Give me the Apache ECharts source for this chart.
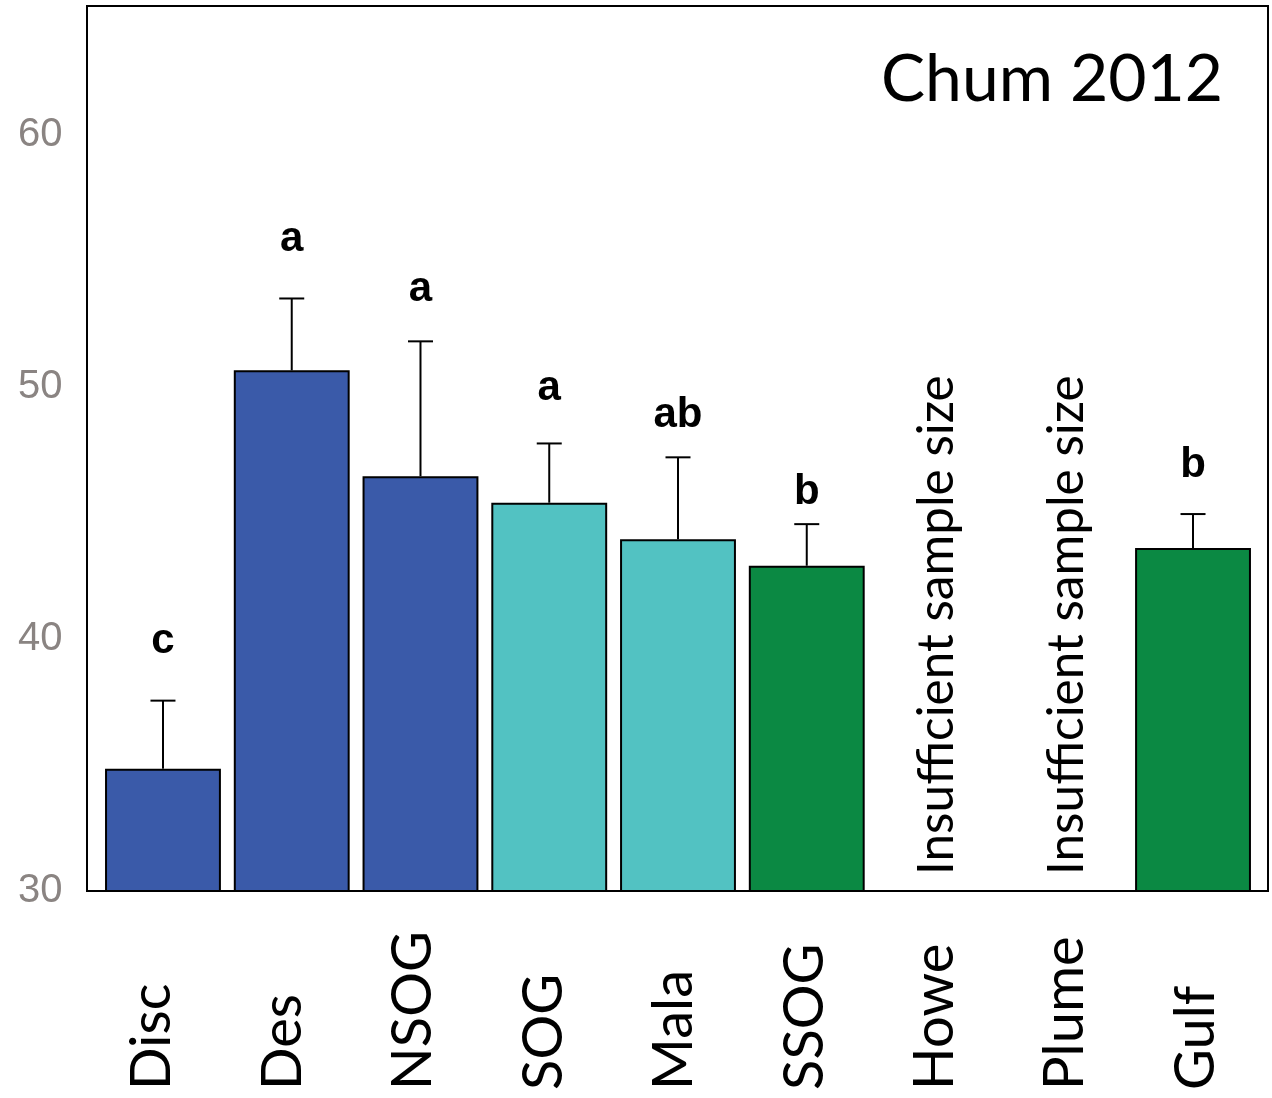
<!DOCTYPE html>
<html>
<head>
<meta charset="utf-8">
<script src="https://cdn.jsdelivr.net/npm/echarts@6/dist/echarts.min.js"></script>
<style>
  html, body { margin: 0; padding: 0; background: #fff; }
  #chart { width: 1272px; height: 1098px; }
</style>
</head>
<body>
<div id="chart"></div>
<script>
// Site means with the upper end of their error bars; Howe and Plume have no data.
const categories = ['Disc', 'Des', 'NSOG', 'SOG', 'Mala', 'SSOG', 'Howe', 'Plume', 'Gulf'];
const means      = [34.85, 50.65, 46.45, 45.4, 43.95, 42.9, null, null, 43.6];
const upperErr   = [37.55, 53.5, 51.8, 47.75, 47.2, 44.55, null, null, 44.95];
const letters    = ['c', 'a', 'a', 'a', 'ab', 'b', '', '', 'b'];
const notes      = ['', '', '', '', '', '', 'Insufficient sample size', 'Insufficient sample size', ''];
const yTicks     = [30, 40, 50, 60];
const chartTitle = 'Chum 2012';

// Styling
const BLUE = '#3a5aa9', TEAL = '#52c2c2', GREEN = '#0b8943';
const barColors = [BLUE, BLUE, BLUE, TEAL, TEAL, GREEN, GREEN, GREEN, GREEN];
const letterLift = [45, 45, 38, 41, 28, 18, 0, 0, 35]; // px between bar cap and letter baseline
const LETTER_SIZE = 42;

const chart = echarts.init(document.getElementById('chart'), null, { renderer: 'canvas' });

const barData = means.map((v, i) => v == null ? null : {
  value: v,
  itemStyle: { color: barColors[i] }
});

const errData = [];
means.forEach((m, i) => {
  if (m != null) errData.push([i, upperErr[i], m, letters[i]]);
});

const noteData = [];
notes.forEach((t, i) => { if (t) noteData.push([i, yTicks[0], t]); });

chart.setOption({
  animation: false,
  backgroundColor: '#fff',
  title: {
    text: chartTitle,
    right: 44,
    top: 42,
    textStyle: { fontFamily: 'Lato', fontSize: 66, fontWeight: 'normal', color: '#000' }
  },
  grid: [
    { left: 98.6, right: 14.6, top: 6, bottom: 207 },
    { left: 87, right: 11, top: 6, bottom: 207 }
  ],
  xAxis: [
    {
      type: 'category', gridIndex: 0, data: categories,
      axisLine: { show: false }, axisTick: { show: false }, axisLabel: { show: false }
    },
    {
      type: 'category', gridIndex: 1, data: categories,
      axisLine: { show: false }, axisTick: { show: false },
      axisLabel: {
        rotate: 90, align: 'left', verticalAlign: 'middle', margin: 199,
        fontFamily: 'Lato', fontSize: 56, color: '#000', interval: 0
      }
    }
  ],
  yAxis: [
    {
      type: 'value', gridIndex: 0, min: 30, max: 65.1, interval: 10,
      splitLine: { show: false }, axisLine: { show: false }, axisTick: { show: false },
      axisLabel: {
        margin: 36, fontFamily: 'Liberation Sans', fontSize: 40, color: '#8a8482',
        formatter: v => yTicks.includes(v) ? String(v) : ''
      }
    },
    { type: 'value', gridIndex: 1, min: 30, max: 65.1, show: false }
  ],
  series: [
    {
      type: 'bar', xAxisIndex: 0, yAxisIndex: 0, data: barData,
      barCategoryGap: '10%',
      itemStyle: { borderColor: '#000', borderWidth: 2 }
    },
    {
      type: 'custom', xAxisIndex: 0, yAxisIndex: 0, data: errData, z: 5,
      renderItem: (params, api) => {
        const i = api.value(0);
        const top = api.coord([i, api.value(1)]);
        const base = api.coord([i, api.value(2)]);
        const lbl = errData[params.dataIndex][3];
        const cap = 12.5;
        const lineStyle = { stroke: '#000', lineWidth: 2 };
        const baseline = top[1] - letterLift[i];
        return {
          type: 'group',
          children: [
            { type: 'line', shape: { x1: top[0], y1: base[1], x2: top[0], y2: top[1] }, style: lineStyle },
            { type: 'line', shape: { x1: top[0] - cap, y1: top[1], x2: top[0] + cap, y2: top[1] }, style: lineStyle },
            {
              type: 'text', x: top[0], y: baseline - 0.33 * LETTER_SIZE,
              style: {
                text: lbl, fontFamily: 'Liberation Sans', fontWeight: 'bold', fontSize: LETTER_SIZE,
                fill: '#000', align: 'center', verticalAlign: 'middle'
              }
            }
          ]
        };
      }
    },
    {
      type: 'custom', xAxisIndex: 1, yAxisIndex: 1, data: noteData, z: 5,
      renderItem: (params, api) => {
        const p = api.coord([api.value(0), api.value(1)]);
        return {
          type: 'text', x: p[0] + 2, y: p[1] - 16, rotation: Math.PI / 2,
          style: {
            text: noteData[params.dataIndex][2], fontFamily: 'Lato', fontSize: 49.5,
            fill: '#000', align: 'left', verticalAlign: 'middle'
          }
        };
      }
    }
  ],
  graphic: [
    {
      type: 'rect', z: 100, silent: true,
      shape: { x: 87, y: 6, width: 1181, height: 885 },
      style: { fill: 'none', stroke: '#000', lineWidth: 2 }
    }
  ]
});
</script>
</body>
</html>
